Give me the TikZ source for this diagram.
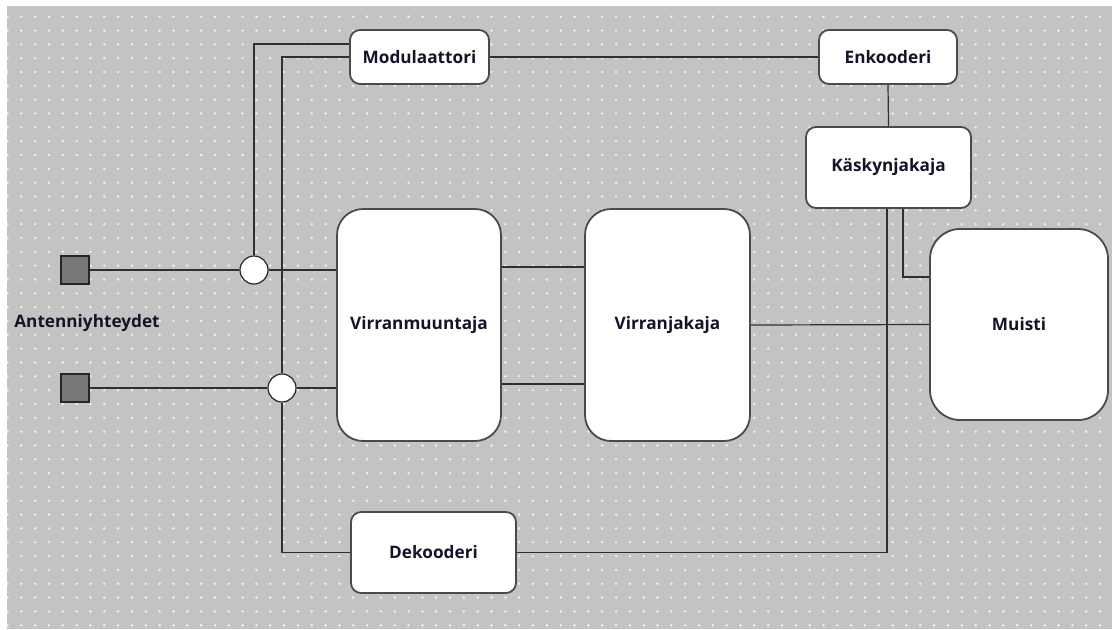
\documentclass[tikz,border=0pt]{standalone}
\usepackage{fontspec}
\setmainfont{Open Sans}
\usepackage{tikz}
\pgfdeclarelayer{gridlayer}
\pgfdeclarelayer{edgelayer}
\pgfdeclarelayer{nodelayer}
\pgfsetlayers{gridlayer,edgelayer,nodelayer,main}
\definecolor{bggrey}{HTML}{C3C3C3}
\definecolor{dotgrey}{HTML}{F0F0F0}
\definecolor{linegrey}{HTML}{303030}
\definecolor{boxline}{HTML}{4A4A4A}
\definecolor{portgrey}{HTML}{777777}
\definecolor{labeltext}{HTML}{141428}
\tikzstyle{none} = []
\tikzstyle{block} = [draw=boxline, fill=white, line width=0.9pt, rounded corners=5pt, inner sep=0pt, text=labeltext, font=\bfseries\fontsize{8.6}{10}\selectfont]
\tikzstyle{big block} = [style=block, rounded corners=13pt]
\tikzstyle{port} = [draw=black!85, fill=portgrey, line width=0.6pt, minimum size=14pt, inner sep=0pt]
\tikzstyle{joint} = [circle, draw=black!85, fill=white, line width=0.6pt, minimum size=14pt, inner sep=0pt]
\tikzstyle{wire} = [draw=linegrey, line width=0.6pt]

\begin{document}
\begin{tikzpicture}[x=0.5pt, y=-0.5pt]
	\useasboundingbox (0, 0) rectangle (1112, 629);
	\begin{pgfonlayer}{gridlayer}
		\fill [white] (0, 0) rectangle (1112, 629);
		\fill [bggrey] (7, 6) rectangle (1112, 629);
		% dotted grid
		\foreach \i in {0,...,79}
			\foreach \j in {0,...,44}
				\fill [dotgrey] (7.5+13.83*\i, 16.7+13.83*\j) circle (0.7pt);
	\end{pgfonlayer}
	\begin{pgfonlayer}{nodelayer}
		\node [style=port] (ant1) at (75, 270) {};
		\node [style=port] (ant2) at (75, 388) {};
		\node [style=none, text=labeltext, font=\bfseries\fontsize{8.6}{10}\selectfont] (antlabel) at (87, 323) {Antenniyhteydet};
		\node [style=joint] (split1) at (254, 270) {};
		\node [style=joint] (split2) at (282, 388) {};
		\node [style=block, minimum width=69.5pt, minimum height=27pt] (modulaattori) at (419.5, 57) {Modulaattori};
		\node [style=block, minimum width=69pt, minimum height=27pt] (enkooderi) at (888, 57) {Enkooderi};
		\node [style=block, minimum width=82.5pt, minimum height=40.5pt] (kaskynjakaja) at (888.5, 167.5) {Käskynjakaja};
		\node [style=big block, minimum width=82pt, minimum height=116pt] (virranmuuntaja) at (419, 325) {Virranmuuntaja};
		\node [style=big block, minimum width=82.5pt, minimum height=116pt] (virranjakaja) at (667.5, 325) {Virranjakaja};
		\node [style=big block, rounded corners=15pt, minimum width=89pt, minimum height=95.5pt] (muisti) at (1019, 324.5) {Muisti};
		\node [style=block, minimum width=82.5pt, minimum height=40.5pt] (dekooderi) at (433.5, 552.5) {Dekooderi};
	\end{pgfonlayer}
	\begin{pgfonlayer}{edgelayer}
		\draw [style=wire] (ant1.east) to (split1.west);
		\draw [style=wire] (split1.east) to (split1 -| virranmuuntaja.west);
		\draw [style=wire] (ant2.east) to (split2.west);
		\draw [style=wire] (split2.east) to (split2 -| virranmuuntaja.west);
		\draw [style=wire] (split1.north) |- ([yshift=6.5pt]modulaattori.west);
		\draw [style=wire] (split2.north) |- (modulaattori.west);
		\draw [style=wire] (split2.south) |- (dekooderi.west);
		\draw [style=wire] (modulaattori.east) to (enkooderi.west);
		\draw [style=wire] (enkooderi.south) to (kaskynjakaja.north);
		\draw [style=wire] ([xshift=-0.75pt]kaskynjakaja.south) |- (dekooderi.east);
		\draw [style=wire] ([xshift=7.25pt]kaskynjakaja.south) |- ([yshift=23.75pt]muisti.west);
		\draw [style=wire] ([yshift=29pt]virranmuuntaja.east) to ([yshift=29pt]virranjakaja.west);
		\draw [style=wire] ([yshift=-29.5pt]virranmuuntaja.east) to ([yshift=-29.5pt]virranjakaja.west);
		\draw [style=wire] (virranjakaja.east) to (muisti.west);
	\end{pgfonlayer}
\end{tikzpicture}
\end{document}
